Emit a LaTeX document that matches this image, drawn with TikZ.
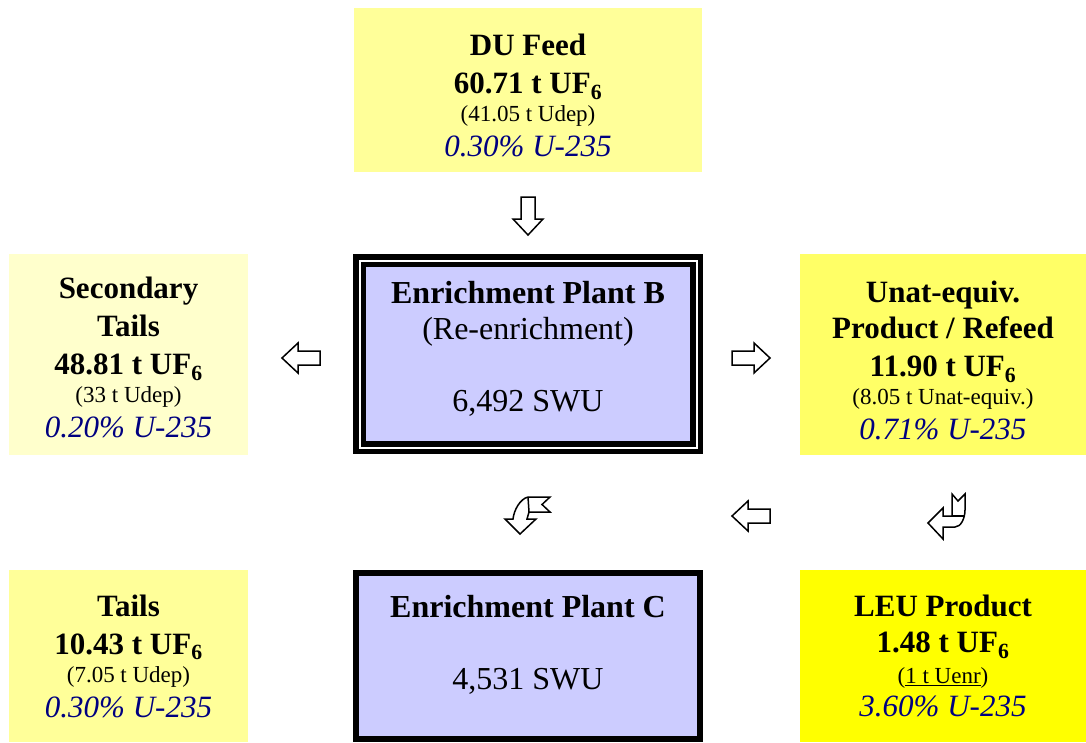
\documentclass[tikz,border=0pt]{standalone}
\usepackage{fontspec}
\setmainfont{Liberation Serif}
\usetikzlibrary{positioning}
\definecolor{feedyel}{HTML}{FFFF99}
\definecolor{paleyel}{HTML}{FFFFCC}
\definecolor{midyel}{HTML}{FFFF66}
\definecolor{leuyel}{HTML}{FFFF00}
\definecolor{plantblue}{HTML}{CCCCFF}
\definecolor{isoblue}{HTML}{000080}
\tikzset{stock/.style = {inner sep = 0, align = center, font = \fontsize{31}{38}\selectfont}}
\tikzset{plant/.style = {inner sep = 0, align = center, fill = plantblue, font = \fontsize{32}{36}\selectfont}}
\tikzset{hollow/.style = {draw, fill = white, line width = 1.5pt, line join = miter}}
\newcommand{\ufsix}[1]{\textbf{#1 t UF\textsubscript{6}}}
\newcommand{\umass}[1]{{\fontsize{23}{28}\selectfont #1}}
\newcommand{\isotope}[1]{{\color{isoblue}\itshape #1\% U-235}}
\newcommand{\toppad}[1]{\rule{0pt}{#1}}
\newcommand{\botpad}[1]{\rule[-#1]{0pt}{#1}}
\newcommand{\blockarrow}{(-19, -7) -- (3, -7) -- (3, -15) -- (19, 0) -- (3, 15) -- (3, 7) -- (-19, 7) -- cycle}

\begin{document}
\begin{tikzpicture}[x = 1pt, y = -1pt]
    \useasboundingbox (0, 0) rectangle (1086, 742);

    \node [stock, fill = feedyel, minimum width = 348pt, minimum height = 164pt] (du) at (528, 90)
      {\toppad{33pt}\textbf{DU Feed}\\\ufsix{60.71}\\[-10pt]\umass{(41.05 t Udep)}\\[-3pt]\isotope{0.30}};
    \node [stock, fill = paleyel, minimum width = 239pt, minimum height = 201pt] (sectails) at (128.5, 354.5)
      {\toppad{28pt}\textbf{Secondary}\\\textbf{Tails}\\\ufsix{48.81}\\[-10pt]\umass{(33 t Udep)}\\[-3pt]\isotope{0.20}};
    \node [plant, draw, line width = 5.5pt, double = white, double distance = 2pt,
           minimum width = 337pt, minimum height = 187pt] (plantB) at (528, 354)
      {\textbf{Enrichment Plant B}\\(Re-enrichment)\\ \\6,492 SWU\botpad{16pt}};
    \node [stock, fill = midyel, minimum width = 286pt, minimum height = 201pt] (unat) at (943, 354.5)
      {\toppad{34pt}\textbf{Unat-equiv.}\\[-2pt]\textbf{Product / Refeed}\\\ufsix{11.90}\\[-10pt]\umass{(8.05 t Unat-equiv.)}\\[-3pt]\isotope{0.71}};

    \node [stock, fill = feedyel, minimum width = 239pt, minimum height = 172pt] (tails) at (128.5, 656)
      {\textbf{Tails}\\\ufsix{10.43}\\[-10pt]\umass{(7.05 t Udep)}\\[-3pt]\isotope{0.30}};
    \node [plant, draw, line width = 6pt, minimum width = 344pt, minimum height = 166pt] (plantC) at (528, 656)
      {\textbf{Enrichment Plant C}\\ \\4,531 SWU\botpad{28pt}};
    \node [stock, fill = leuyel, minimum width = 286pt, minimum height = 172pt] (leu) at (943, 656)
      {\textbf{LEU Product}\\[-2pt]\ufsix{1.48}\\[-7pt]\umass{(\underline{1 t Uenr})}\\[-5pt]\isotope{3.60}};

    % straight block arrows
    \draw [hollow, shift = {(528, 216)}, rotate = -90] \blockarrow;
    \draw [hollow, shift = {(301, 358)}, rotate = 180] \blockarrow;
    \draw [hollow, shift = {(751, 358)}] \blockarrow;
    \draw [hollow, shift = {(751, 516)}, rotate = 180] \blockarrow;

    % bent arrows
    \draw [hollow] (550, 497) -- (542, 504.5) -- (550, 512) -- (529, 512) -- (527, 519) -- (536, 519)
      -- (520, 534) -- (505, 519) -- (513, 519) .. controls (514, 510) and (520, 499) .. (528, 497) -- cycle;
    \draw [line width = 1.5pt] (528, 497) -- (529, 512);
    \draw [hollow] (952, 494) -- (958, 501) -- (965, 494) -- (965, 510) .. controls (965, 518) and (961, 527) .. (955, 527)
      -- (943, 527) -- (943, 539) -- (928, 523) -- (943, 508) -- (943, 516) -- (952, 516) -- cycle;
    \draw [line width = 1.5pt] (952, 516) -- (965, 516);
\end{tikzpicture}
\end{document}
